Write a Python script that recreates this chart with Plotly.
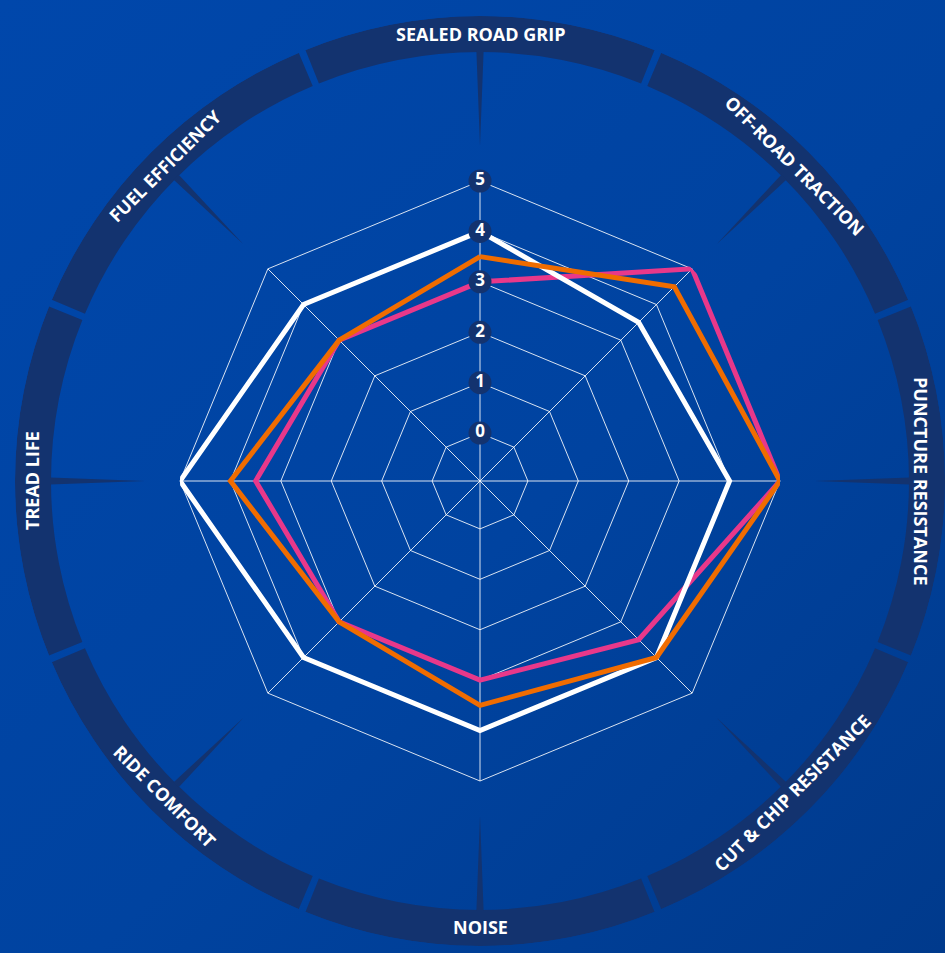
import base64
import numpy as np
import plotly.graph_objects as go

# ---------------- data ----------------
categories = ["SEALED ROAD GRIP", "OFF-ROAD TRACTION", "PUNCTURE RESISTANCE",
              "CUT & CHIP RESISTANCE", "NOISE", "RIDE COMFORT", "TREAD LIFE",
              "FUEL EFFICIENCY"]
white_values = [4, 3.5, 4, 4, 4, 4, 5, 4]
orange_values = [3.5, 4.5, 5, 4, 3.5, 3, 4, 3]
pink_values = [3, 5, 5, 3.5, 3, 3, 3.5, 3]
tick_values = [0, 1, 2, 3, 4, 5]
tick_labels = ["0", "1", "2", "3", "4", "5"]

# ---------------- styling / geometry ----------------
W, H = 945, 953
CX, CY = 480, 481
R_PLOT = 300          # px radius of value 5
R_OUT = 465           # px radius of outer decoration subplot
R_MIN = -0.95         # radial value at the centre
BAND_IN, BAND_OUT = 429, 465
NEEDLE_TIP = 335
LABEL_R = [447, 446, 441, 441, 446, 446, 448, 446]
LABEL_ANGLES = [0, 45, 90, -45, 0, 45, -90, -45]
BAND = "#13336f"
WHITE = "#ffffff"
ORANGE = "#f06c00"
PINK = "#e8388a"
FONT = "Open Sans"

n = len(categories)


def closed(v):
    return list(v) + [v[0]]


fig = go.Figure()

# ---- grid subplot: an invisible trace so plotly draws the octagonal grid ----
fig.add_trace(go.Scatterpolar(
    r=tick_values, theta=[categories[0]] * len(tick_values), mode="markers",
    marker=dict(size=1, opacity=0), hoverinfo="skip", subplot="polar",
    showlegend=False))

# ---- decoration subplot (band segments + needles) ----
step = 360.0 / n
gap_deg = np.degrees(7.0 / ((BAND_IN + BAND_OUT) / 2))
fig.add_trace(go.Barpolar(
    r=[BAND_OUT - BAND_IN] * n, base=[BAND_IN] * n,
    theta=[i * step for i in range(n)], width=[step - gap_deg] * n,
    marker=dict(color=BAND, line=dict(width=0)),
    hoverinfo="skip", subplot="polar2", showlegend=False))

half = np.degrees(3.6 / BAND_IN)
nr, nt = [], []
for i in range(n):
    t = i * step
    nr += [BAND_IN + 1, NEEDLE_TIP, BAND_IN + 1, BAND_IN + 1, None]
    nt += [t - half, t, t + half, t - half, None]
fig.add_trace(go.Scatterpolar(
    r=nr, theta=nt, mode="lines", fill="toself", fillcolor=BAND,
    line=dict(width=0, color=BAND), hoverinfo="skip", subplot="polar2",
    showlegend=False, connectgaps=False))

# ---- data series (overlay subplot with same scale, circular clip) ----
for name, vals, col in [("Pink", pink_values, PINK),
                        ("White", white_values, WHITE),
                        ("Orange", orange_values, ORANGE)]:
    fig.add_trace(go.Scatterpolar(
        r=closed(vals), theta=closed(categories), mode="lines", name=name,
        line=dict(color=col, width=5), cliponaxis=False,
        subplot="polar3", showlegend=False))

# ---- radial tick labels in dark discs ----
fig.add_trace(go.Scatterpolar(
    r=tick_values, theta=[categories[0]] * len(tick_values),
    mode="markers+text", text=tick_labels, textposition="middle center",
    textfont=dict(color="white", size=17, family=FONT, weight=700),
    marker=dict(size=23, color=BAND, line=dict(width=0)),
    cliponaxis=False,
    hoverinfo="skip", subplot="polar3", showlegend=False))

# ---- axis labels on the band ----
annotations = []
for i, cat in enumerate(categories):
    phi = np.radians(90 - i * step)
    R = LABEL_R[i]
    px = CX + R * np.cos(phi)
    py = CY - R * np.sin(phi)
    annotations.append(dict(
        x=px / W, y=1 - py / H, xref="paper", yref="paper", text=cat,
        showarrow=False, xanchor="center", yanchor="middle",
        textangle=LABEL_ANGLES[i],
        font=dict(color="white", size=18, family=FONT, weight=700)))

# ---- background gradient ----
svg = (f'<svg xmlns="http://www.w3.org/2000/svg" width="{W}" height="{H}" '
       f'preserveAspectRatio="none"><defs><linearGradient id="g" x1="0" y1="0" '
       f'x2="1" y2="1"><stop offset="0" stop-color="#0047ab"/>'
       f'<stop offset="0.55" stop-color="#0043a0"/>'
       f'<stop offset="1" stop-color="#003a8c"/></linearGradient></defs>'
       f'<rect width="{W}" height="{H}" fill="url(#g)"/></svg>')
bg_src = "data:image/svg+xml;base64," + base64.b64encode(svg.encode()).decode()

grid_col = "rgba(255,255,255,0.85)"
dom_plot = dict(x=[(CX - R_PLOT) / W, (CX + R_PLOT) / W],
                y=[1 - (CY + R_PLOT) / H, 1 - (CY - R_PLOT) / H])
fig.update_layout(
    width=W, height=H, margin=dict(l=0, r=0, t=0, b=0),
    paper_bgcolor="#0045a5", plot_bgcolor="rgba(0,0,0,0)",
    showlegend=False,
    images=[dict(source=bg_src, xref="paper", yref="paper", x=0, y=1,
                 sizex=1, sizey=1, xanchor="left", yanchor="top",
                 sizing="stretch", layer="below")],
    polar=dict(
        domain=dom_plot,
        bgcolor="rgba(0,0,0,0)", gridshape="linear",
        radialaxis=dict(range=[R_MIN, 5], tickvals=tick_values,
                        showticklabels=False, ticks="", showline=False,
                        gridcolor=grid_col, gridwidth=1, angle=90),
        angularaxis=dict(direction="clockwise", rotation=90,
                         showticklabels=False, ticks="", showline=True,
                         linecolor=grid_col, linewidth=1,
                         gridcolor=grid_col, gridwidth=1,
                         type="category", categoryarray=categories)),
    polar2=dict(
        domain=dict(x=[(CX - R_OUT) / W, (CX + R_OUT) / W],
                    y=[1 - (CY + R_OUT) / H, 1 - (CY - R_OUT) / H]),
        bgcolor="rgba(0,0,0,0)",
        radialaxis=dict(range=[0, R_OUT], visible=False),
        angularaxis=dict(direction="clockwise", rotation=90, visible=False,
                         thetaunit="degrees")),
    polar3=dict(
        domain=dom_plot,
        bgcolor="rgba(0,0,0,0)", gridshape="circular",
        radialaxis=dict(range=[R_MIN, 5], visible=False),
        angularaxis=dict(direction="clockwise", rotation=90, visible=False,
                         type="category", categoryarray=categories)),
    annotations=annotations,
)

fig.write_html("out.html", config={"displayModeBar": False},
               post_script="document.body.style.margin='0';")
